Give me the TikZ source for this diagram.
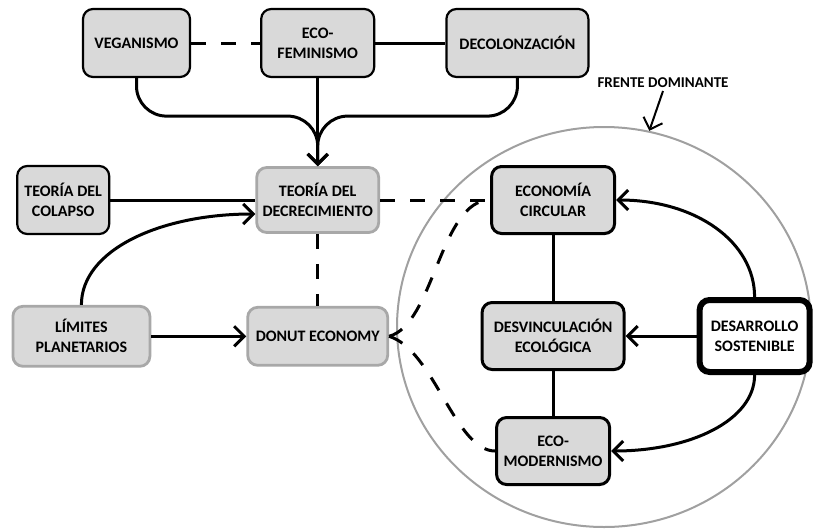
\documentclass[tikz,border=0pt]{standalone}
\usepackage{fontspec}
\setmainfont{Carlito}
\usetikzlibrary{arrows.meta, positioning, shapes.geometric}

\definecolor{boxgray}{HTML}{D9D9D9}
\definecolor{edgegray}{HTML}{A8A8A8}
\definecolor{circgray}{HTML}{A0A0A0}

\begin{document}
\begin{tikzpicture}[
    x=1pt, y=-1pt,
    font=\fontsize{16}{20}\selectfont\bfseries,
    block/.style = {draw, line width=2.2pt, rounded corners=10pt, fill=boxgray, minimum height=68pt, align=center, inner sep=2pt},
    softblock/.style = {block, draw=edgegray, line width=2.8pt},
    darkblock/.style = {block, line width=3pt, minimum height=67pt},
    arrow/.style = {line width=3pt, -{Straight Barb[length=10pt, width=20pt]}},
    plainline/.style = {line width=3pt},
    dashline/.style = {line width=3pt, dash pattern=on 15pt off 15pt},
  ]
  \useasboundingbox (0,0) rectangle (814,528);

  % Frente dominante
  \node[draw=circgray, line width=2pt, ellipse, minimum width=414pt, minimum height=400pt, inner sep=0pt] (front) at (604,327) {};
  \node[above=35pt of front.north, xshift=59pt, font=\fontsize{15}{18}\selectfont\bfseries] (frontlabel) {FRENTE DOMINANTE};

  % Top row
  \node[block, minimum width=107pt] (vegan) at (136.5,43) {VEGANISMO};
  \node[block, minimum width=113pt, right=69pt of vegan] (ecofem) {ECO-\\FEMINISMO};
  \node[block, minimum width=142pt, right=70pt of ecofem] (decol) {DECOLONZACIÓN};

  % Middle row
  \node[softblock, minimum width=122pt, minimum height=65pt, below=88pt of ecofem] (decrec) {TEORÍA DEL\\DECRECIMIENTO};
  \node[block, minimum width=92pt, left=145pt of decrec] (colapso) {TEORÍA DEL\\COLAPSO};
  \node[softblock, minimum width=140pt, minimum height=58pt, below=72pt of decrec] (donut) {DONUT ECONOMY};
  \node[softblock, minimum width=137pt, minimum height=60pt, left=95pt of donut] (limites) {LÍMITES\\PLANETARIOS};

  % Inside the circle
  \node[darkblock, minimum width=123pt, right=110pt of decrec] (econ) {ECONOMÍA\\CIRCULAR};
  \node[darkblock, minimum width=142pt, below=66pt of econ] (desvinc) {DESVINCULACIÓN\\ECOLÓGICA};
  \node[darkblock, minimum width=113pt, below=45pt of desvinc] (ecomod) {ECO-\\MODERNISMO};
  \node[block, fill=white, line width=6pt, minimum width=110pt, minimum height=72pt, right=71pt of desvinc] (desarr) {DESARROLLO\\SOSTENIBLE};

  % Top links
  \draw[dashline] (vegan) -- (ecofem);
  \draw[plainline] (ecofem) -- (decol);
  \coordinate[above=50pt of decrec.north] (merge);
  \draw[arrow, rounded corners=30pt] (vegan.south) |- (merge) -- (decrec.north);
  \draw[arrow, rounded corners=30pt] (decol.south) |- (merge) -- (decrec.north);
  \draw[arrow] (ecofem.south) -- (decrec.north);

  % Left side
  \draw[plainline] (colapso) -- (decrec);
  \draw[arrow] (limites.north) .. controls +(0,-55) and +(-95,0) .. ([yshift=-14pt]decrec.west);
  \draw[arrow] (limites) -- (donut);
  \draw[dashline] (decrec) -- (donut);

  % Towards the dominant front
  \draw[dashline] (decrec) -- (econ);
  \draw[dashline] (donut.east) .. controls +(45,-12) and +(-50,0) .. (econ.west);
  \draw[dashline] (donut.east) .. controls +(45,14) and +(-40,0) .. (ecomod.west);

  % Inside the front
  \draw[plainline] (econ) -- (desvinc);
  \draw[plainline] (desvinc) -- (ecomod);
  \draw[arrow] (desarr.north) .. controls +(0,-55) and +(80,0) .. (econ.east);
  \draw[arrow] (desarr) -- (desvinc);
  \draw[arrow] (desarr.south) .. controls +(0,45) and +(80,0) .. (ecomod.east);

  \draw[arrow, line width=2pt] (frontlabel.south) -- (front.77);

\end{tikzpicture}
\end{document}
